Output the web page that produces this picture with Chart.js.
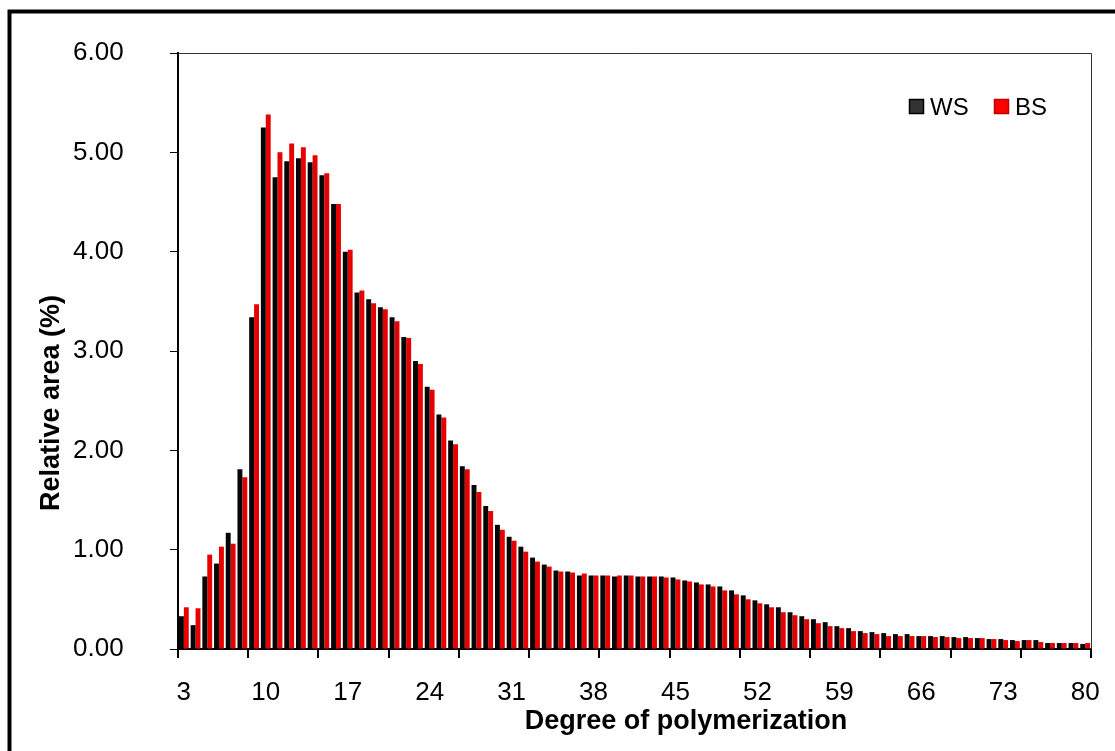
<!DOCTYPE html>
<html>
<head>
<meta charset="utf-8">
<title>Degree of polymerization</title>
<script src="https://cdn.jsdelivr.net/npm/chart.js@4.4.1/dist/chart.umd.min.js"></script>
<style>
  html, body { margin: 0; padding: 0; background: #fff; }
</style>
</head>
<body>
<canvas id="dpChart" width="1115" height="751"></canvas>
<script>
// degree of polymerization, 3 .. 80
var dpLabels = ['3','4','5','6','7','8','9','10','11','12','13','14','15','16','17','18','19','20',
  '21','22','23','24','25','26','27','28','29','30','31','32','33','34','35','36','37','38','39','40',
  '41','42','43','44','45','46','47','48','49','50','51','52','53','54','55','56','57','58','59','60',
  '61','62','63','64','65','66','67','68','69','70','71','72','73','74','75','76','77','78','79','80'];

// relative area (%) per DP
var wsValues = [0.33,0.24,0.73,0.86,1.17,1.81,3.34,5.25,4.75,4.91,4.94,4.90,4.77,4.48,4.00,3.59,3.52,3.44,
  3.34,3.14,2.90,2.64,2.36,2.10,1.84,1.65,1.44,1.25,1.13,1.03,0.92,0.85,0.79,0.78,0.74,0.74,0.74,0.73,
  0.74,0.73,0.73,0.73,0.72,0.69,0.67,0.65,0.63,0.59,0.54,0.49,0.45,0.42,0.37,0.33,0.30,0.27,0.23,0.21,
  0.18,0.17,0.16,0.15,0.15,0.13,0.13,0.13,0.12,0.12,0.11,0.10,0.10,0.09,0.09,0.09,0.06,0.06,0.06,0.05];

var bsValues = [0.42,0.41,0.95,1.03,1.06,1.73,3.47,5.38,5.00,5.09,5.05,4.97,4.79,4.48,4.02,3.61,3.48,3.42,
  3.30,3.13,2.87,2.61,2.33,2.06,1.81,1.58,1.39,1.20,1.09,0.98,0.88,0.83,0.78,0.77,0.76,0.74,0.74,0.74,
  0.74,0.73,0.73,0.72,0.70,0.68,0.65,0.63,0.59,0.55,0.50,0.46,0.42,0.37,0.34,0.30,0.26,0.23,0.21,0.18,
  0.16,0.15,0.13,0.13,0.13,0.13,0.12,0.12,0.11,0.11,0.11,0.10,0.09,0.08,0.09,0.07,0.06,0.06,0.06,0.06];

var yMin = 0, yMax = 6, yStep = 1;
var labelEvery = 7;   // x labels every 7th DP
var tickEvery = 6;    // x tick marks every 6 categories

var FONT = '"Liberation Sans", Arial, sans-serif';

var decorations = {
  id: 'decorations',
  beforeDraw: function(chart) {
    var c = chart.ctx;
    c.save();
    c.fillStyle = '#fff';
    c.fillRect(0, 0, chart.width, chart.height);
    // outer frame (left and top edges)
    c.strokeStyle = '#000';
    c.lineWidth = 4;
    c.beginPath();
    c.moveTo(9.5, chart.height);
    c.lineTo(9.5, 11.5);
    c.lineTo(chart.width, 11.5);
    c.stroke();
    c.restore();
  },
  afterDraw: function(chart) {
    var c = chart.ctx, a = chart.chartArea;
    c.save();
    // plot box top and right edges
    c.strokeStyle = '#333';
    c.lineWidth = 1;
    c.beginPath();
    c.moveTo(a.left, a.top + 0.5);
    c.lineTo(a.right + 0.5, a.top + 0.5);
    c.lineTo(a.right + 0.5, a.bottom);
    c.stroke();

    // axis titles
    c.fillStyle = '#000';
    c.font = 'bold 27px ' + FONT;
    c.textAlign = 'center';
    c.textBaseline = 'middle';
    c.fillText('Degree of polymerization', 686, 722);
    c.save();
    c.translate(52, 403);
    c.rotate(-Math.PI / 2);
    c.fillText('Relative area (%)', 0, 0);
    c.restore();

    // legend
    c.font = '24px ' + FONT;
    c.textAlign = 'left';
    c.textBaseline = 'middle';
    var lx = a.right - 182, ly = a.top + 46;
    chart.data.datasets.forEach(function(ds, i) {
      var x = lx + i * 85;
      c.fillStyle = ds.legendFill;
      c.fillRect(x, ly, 15, 15);
      c.strokeStyle = ds.legendStroke;
      c.lineWidth = 1.5;
      c.strokeRect(x + 0.5, ly + 0.5, 14, 14);
      c.fillStyle = '#000';
      c.fillText(ds.label, x + 21, ly + 9);
    });
    c.restore();
  }
};

var ctx = document.getElementById('dpChart').getContext('2d');
var dpChart = new Chart(ctx, {
  type: 'bar',
  data: {
    labels: dpLabels,
    datasets: [{
      label: 'WS',
      data: wsValues,
      backgroundColor: '#050505',
      legendFill: '#333333',
      legendStroke: '#000000',
      borderWidth: 0,
      barPercentage: 1.0,
      categoryPercentage: 0.84
    }, {
      label: 'BS',
      data: bsValues,
      backgroundColor: '#e80000',
      legendFill: '#ff0000',
      legendStroke: '#c00000',
      borderWidth: 0,
      barPercentage: 1.0,
      categoryPercentage: 0.84
    }]
  },
  options: {
    responsive: false,
    animation: false,
    devicePixelRatio: 1,
    layout: { padding: { top: 53, right: 24, bottom: 0, left: 73 } },
    plugins: {
      legend: { display: false },
      tooltip: { enabled: false }
    },
    scales: {
      x: {
        offset: true,
        grid: {
          offset: true,
          drawOnChartArea: false,
          drawTicks: true,
          tickLength: 9,
          lineWidth: 2,
          color: function(context) {
            if (context.type === 'scale' || context.index % tickEvery === 0) return '#000';
            return 'rgba(0,0,0,0)';
          }
        },
        border: { display: true, color: '#000', width: 2 },
        ticks: {
          autoSkip: false,
          maxRotation: 0,
          minRotation: 0,
          padding: 4,
          color: '#000',
          // tall line box pushes the labels down below the tick marks
          font: { family: FONT, size: 26, lineHeight: 2.4 },
          callback: function(value, index) {
            return index % labelEvery === 0 ? dpLabels[index] : '';
          }
        },
        afterFit: function(scale) { scale.height = 102; }
      },
      y: {
        min: yMin,
        max: yMax,
        grid: {
          drawOnChartArea: false,
          drawTicks: true,
          tickLength: 8,
          lineWidth: 1,
          color: '#000'
        },
        border: { display: true, color: '#000', width: 2 },
        ticks: {
          stepSize: yStep,
          padding: 4,
          crossAlign: 'far',
          color: '#000',
          font: { family: FONT, size: 26 },
          callback: function(value) { return value.toFixed(2); }
        },
        afterFit: function(scale) { scale.width = 105; }
      }
    }
  },
  plugins: [decorations]
});
</script>
</body>
</html>
